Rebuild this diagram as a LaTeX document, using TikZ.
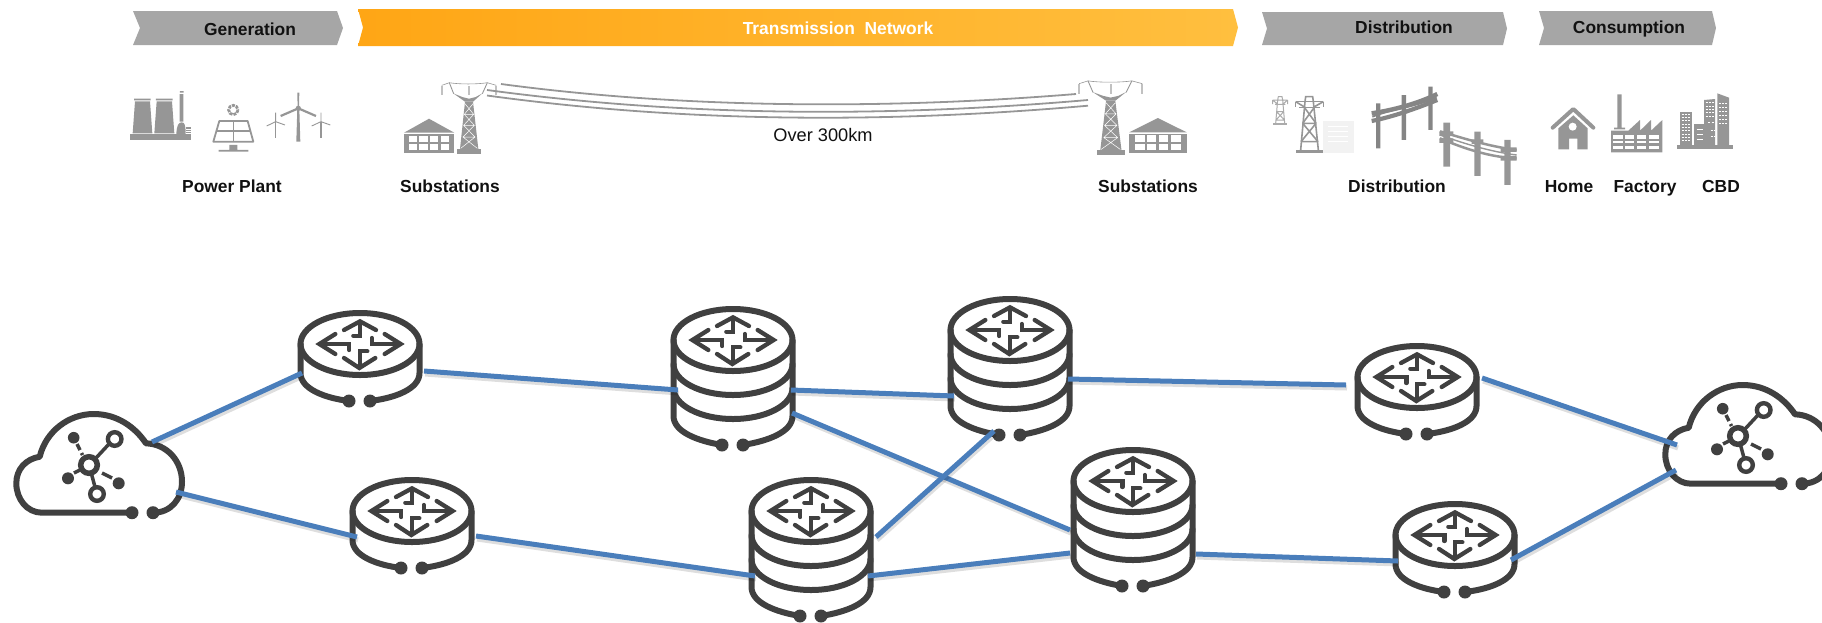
\documentclass[tikz,border=0pt]{standalone}
\usepackage{fontspec}
\setmainfont{Liberation Sans}
\usetikzlibrary{calc}
\definecolor{ink}{HTML}{404040}
\definecolor{icong}{HTML}{969696}
\definecolor{bandg}{HTML}{A6A6A6}
\definecolor{linkb}{HTML}{4A7EBB}
\definecolor{orgl}{HTML}{FFA615}
\definecolor{orgr}{HTML}{FFBF3F}
\definecolor{txt}{HTML}{111111}
\tikzset{
  hub/.style={inner sep=0pt,minimum size=1pt,outer sep=0pt},
  band/.style={fill=bandg},
  head/.style={anchor=base,text=txt,font=\bfseries\fontsize{17.4}{20}\selectfont,inner sep=0pt},
  link/.style={draw=linkb,line width=5pt},
  glow/.style={draw=black,opacity=.13,line width=5pt},
  ico/.style={draw=ink,line width=6pt,line cap=round,line join=round},
  arr/.style={draw=ink,line width=4.3pt,line cap=round,line join=miter,miter limit=8},
  thinp/.style={draw=icong,line width=1.6pt},
  pics/glyph/.style={code={
    \begin{scope}[scale=.3333]
      \draw[arr] (-74,-30) -- (-122,0) -- (-74,30);
      \draw[arr] (-115,0) -- (-32,0) -- (-32,18);
      \draw[arr] (74,-30) -- (122,0) -- (74,30);
      \draw[arr] (115,0) -- (35,0) -- (35,-18);
      \draw[arr] (-48,-42) -- (0,-68) -- (48,-42);
      \draw[arr] (0,-60) -- (0,-25) -- (-20,-25);
      \draw[arr] (-48,42) -- (-2,72) -- (46,42);
      \draw[arr] (0,65) -- (0,22) -- (22,22);
    \end{scope}
  }},
  pics/routerpic/.style={code={
    \draw[ico] (0,0) ellipse [x radius=59.5,y radius=31];
    \draw[ico] (-59.5,0) -- (-59.5,29) .. controls (-59.5,45) and (-35,54) .. (-11,57);
    \draw[ico] (59.5,0) -- (59.5,29) .. controls (59.5,45) and (35,54) .. (10,57);
    \fill[ink] (-11,57) circle [radius=6.5] (10,57) circle [radius=6.5];
    \pic {glyph};
  }},
  pics/drumpic/.style={code={
    \draw[ico] (0,0) ellipse [x radius=59.5,y radius=31];
    \foreach \d in {24,48}{
      \draw[ico] (-59.5,\d) .. controls (-59.5,\d+17) and (-33,\d+31) .. (0,\d+31)
        .. controls (33,\d+31) and (59.5,\d+17) .. (59.5,\d);
    }
    \draw[ico] (-59.5,0) -- (-59.5,76) .. controls (-59.5,92) and (-35,101) .. (-11,105);
    \draw[ico] (59.5,0) -- (59.5,76) .. controls (59.5,92) and (35,101) .. (10,105);
    \fill[ink] (-11,105) circle [radius=6.5] (10,105) circle [radius=6.5];
    \pic {glyph};
  }},
  pics/cloudpic/.style={code={
    \draw[ico] (43,47.7) -- (-47,47.7)
      .. controls (-62,47.7) and (-72.7,34) .. (-72.7,18.3)
      .. controls (-72.7,4) and (-63,-6) .. (-49.3,-8.3)
      .. controls (-43,-34) and (-20,-51) .. (4.7,-51)
      .. controls (28,-51) and (46,-38) .. (57,-21.7)
      .. controls (78,-21) and (93,-4) .. (93,16.7)
      .. controls (93,34) and (82,47.7) .. (64,47.7);
    \fill[ink] (43,47.7) circle [radius=6.5] (64,47.7) circle [radius=6.5];
    \draw[ink,line width=5.5pt] (0,0) circle [radius=8.3];
    \draw[ink,line width=4.4pt] (25.7,-26) circle [radius=6.8] (8,29) circle [radius=6.8];
    \draw[ink,line width=3.5pt] (7,-7) -- (20,-21) (2.5,9) -- (6,22);
    \draw[ink,line width=3.5pt] (-6.5,-10) -- (-7.5,-12) (-9,-15) -- (-12,-21);
    \draw[ink,line width=3.5pt] (-9,5) -- (-15,8) (13,8) -- (23,13);
    \fill[ink] (-15.3,-27.3) circle [radius=5.8] (-21,13.3) circle [radius=6] (29.7,18.3) circle [radius=6];
  }},
  pics/pylon/.style={code={
    \fill[icong] (-36,-14) rectangle (36,0);
    \fill[icong] (-12,-156) -- (12,-156) -- (28,-14) -- (-27,-14) -- cycle;
    \draw[white,line width=.5pt] (-12,-150) -- (14,-118) -- (-16,-85) -- (18,-50) -- (-25,-16)
      (12,-150) -- (-14,-118) -- (16,-85) -- (-18,-50) -- (25,-16)
      (-14,-118) -- (14,-118) (-16,-85) -- (16,-85) (-18,-50) -- (18,-50);
    \fill[icong] (-47,-181) -- (-12,-156) -- (12,-156) -- (40,-181) -- (20,-170) -- (0,-165) -- (-20,-170) -- cycle;
    \draw[icong,line width=.6pt] (-82,-205) -- (-59,-213) .. controls (-30,-208) and (25,-208) .. (55,-213) -- (82,-205);
    \draw[icong,line width=.9pt] (-59,-213) -- (-46,-180) (55,-213) -- (40,-180);
    \draw[bandg!70,line width=2pt] (-82,-203) -- (-82,-176) (0,-203) -- (0,-176) (82,-203) -- (82,-176);
  }},
  pics/depot/.style={code={
    \fill[icong] (0,-60) -- (75,-102) -- (151,-60) -- cycle;
    \fill[icong] (0,-56) rectangle (151,0);
    \foreach \xa in {15,46,78,110}{
      \fill[white] (\xa,-51) rectangle ++(25,20);
      \fill[white] (\xa,-26) rectangle ++(25,18);
    }
  }}
}
\begin{document}
\begin{tikzpicture}[x=1pt,y=-1pt]
\useasboundingbox (0,0) rectangle (1822,622);
\clip (0,0) rectangle (1822,622);

% ---------- header bands
\fill[band] (133,11) -- (337,11) -- (343,28) -- (337,45) -- (133,45) -- (140,28) -- cycle;
\shade[left color=orgl,right color=orgr] (358,9) -- (1233,9) -- (1238,27.5) -- (1233,46) -- (358,46) -- (363,27.5) -- cycle;
\fill[band] (1262,12) -- (1503,12) -- (1507,28.5) -- (1503,45) -- (1262,45) -- (1267,28.5) -- cycle;
\fill[band] (1539,11) -- (1712,11) -- (1716,28) -- (1712,45) -- (1539,45) -- (1544,28) -- cycle;
\node[head] (hgen) at (250,35) {Generation};
\node[head,text=white] (htrans) at (838,34) {Transmission\ \ Network};
\node[head] (hdist) at (1404,33) {Distribution};
\node[head] (hcons) at (1629,33) {Consumption};

% ---------- captions
\node[head] (lpp) at (232,192) {Power Plant};
\node[head] (lsa) at (450,192) {Substations};
\node[head] (lsb) at (1148,192) {Substations};
\node[head] (ldi) at (1397,192) {Distribution};
\node[head] (lho) at (1569,192) {Home};
\node[head] (lfa) at (1645,192) {Factory};
\node[head] (lcb) at (1721,192) {CBD};
\node[anchor=base,inner sep=0pt,text=txt,font=\fontsize{18.2}{22}\selectfont] (lover) at (823,141.7) {Over 300km};

% ---------- power plant icons
\begin{scope}[shift={(120,80)},scale=.3333]
  \fill[icong] (42,56) rectangle (92,61) (108,56) rectangle (158,61);
  \fill[icong] (45,64) -- (90,64) -- (97,160) -- (38,160) -- cycle;
  \fill[icong] (110,64) -- (156,64) -- (163,160) -- (103,160) -- cycle;
  \fill[icong] (30,163) rectangle (212,180);
  \fill[icong] (179,42) rectangle (190,125) (180,33) rectangle (191,38);
  \fill[icong] (169,163) .. controls (170,135) and (176,127) .. (185,127) .. controls (194,127) and (197,135) .. (197,163) -- cycle;
  \fill[icong] (197,142) rectangle (212,163);
  \draw[white,line width=.6pt] (197,148) -- (212,148) (197,154) -- (212,154) (197,160) -- (212,160);
  % solar
  \draw[icong,line width=1.8pt,line join=round] (298,123) -- (383,123) -- (400,185) -- (280,185) -- cycle;
  \draw[icong,line width=1.6pt] (290,153) -- (392,153) (340,123) -- (340,185);
  \fill[icong] (328,195) rectangle (352,210) (296,210) rectangle (385,215);
  \draw[icong,line width=2.8pt,dash pattern=on 3pt off 1pt] (340,90) circle [radius=14];
  % turbines
  \fill[icong] (532,85) -- (538,85) -- (541,185) -- (529,185) -- cycle;
  \fill[icong] (533,85) -- (532,38) -- (538,38) -- (537,85) -- cycle;
  \draw[icong,line width=2.2pt] (535,85) -- (482,108) (535,85) -- (588,108);
  \fill[icong] (535,85) circle [radius=8];
  \draw[icong,line width=1.6pt] (467,125) -- (467,175) (603,125) -- (603,175);
  \draw[icong,line width=.9pt] (467,98) -- (467,125) -- (440,138) (467,125) -- (495,135)
     (603,98) -- (603,125) -- (575,138) (603,125) -- (631,135);
\end{scope}

% ---------- transmission
\pic[scale=.3333] at (404,152.7) {depot};
\pic[scale=.3333] at (469,153.7) {pylon};
\pic[xscale=.38,yscale=.34] at (1129.3,152.7) {depot};
\pic[xscale=.385,yscale=.348] at (1110.7,155) {pylon};
\coordinate (wa) at (501,84);
\coordinate (wb) at (487,90);
\coordinate (wc) at (487,95.5);
\coordinate (wd) at (1076,94);
\coordinate (we) at (1088,100);
\coordinate (wf) at (1088,105.7);
\draw[draw=icong,line width=1.8pt] (wa) .. controls (680,108) and (880,110) .. (wd);
\draw[draw=icong,line width=1.8pt] (wb) .. controls (680,116) and (880,118) .. (we);
\draw[draw=icong,line width=1.8pt] (wc) .. controls (680,122) and (880,124) .. (wf);

% ---------- distribution icons
\begin{scope}[shift={(1260,70)},scale=.3333]
  \fill[black!5] (190,153) rectangle (282,248);
  \draw[white,line width=1.6pt] (205,170) -- (265,170) (205,185) -- (265,185) (205,200) -- (265,200) (205,215) -- (265,215);
  % big lattice pylon
  \draw[thinp] (135,95) -- (122,240) (160,95) -- (175,240) (135,95) -- (137,80) -- (158,80) -- (160,95);
  \draw[thinp] (107,95) -- (190,95) (107,95) -- (107,110) (190,95) -- (190,110) (118,112) -- (180,112);
  \draw[thinp] (107,95) -- (135,112) (190,95) -- (160,112);
  \draw[thinp] (128,160) -- (168,160) (123,215) -- (174,215) (128,160) -- (174,215) (168,160) -- (123,215) (133,112) -- (168,160) (163,112) -- (128,160);
  \fill[icong] (108,240) rectangle (188,248);
  % small lattice pylon
  \draw[icong!80,line width=1pt] (53,90) -- (47,160) (68,90) -- (74,160) (53,90) -- (55,80) -- (66,80) -- (68,90)
    (38,90) -- (83,90) (38,90) -- (38,102) (83,90) -- (83,102) (45,103) -- (76,103) (38,90) -- (53,103) (83,90) -- (68,103)
    (50,125) -- (71,125) (48,150) -- (73,150) (50,125) -- (73,150) (71,125) -- (48,150);
  \fill[icong!80] (40,160) rectangle (81,165);
  % first pole group
  \fill[black!48] (348,100) rectangle (361,235) (425,75) rectangle (438,210) (505,50) rectangle (518,180);
  \draw[black!48,line width=4.4pt] (335,130) .. controls (400,120) and (470,102) .. (532,72);
  \draw[black!48,line width=4.2pt] (335,153) .. controls (400,140) and (470,115) .. (532,90);
  \draw[black!48,line width=2pt] (337,140) .. controls (400,115) and (470,110) .. (530,82);
  % second pole group
  \fill[icong] (550,158) rectangle (570,290) (643,185) rectangle (662,318) (733,210) rectangle (752,345);
  \fill[icong] (538,184) rectangle (580,198) (538,205) rectangle (580,219);
  \fill[icong] (635,208) rectangle (670,222) (722,232) rectangle (770,246) (722,258) rectangle (770,272);
  \draw[icong,line width=2.5pt] (540,184) .. controls (610,205) and (690,230) .. (770,240);
  \draw[icong,line width=2.5pt] (540,205) .. controls (610,235) and (690,262) .. (770,265);
  \draw[icong,line width=1.4pt] (540,195) .. controls (610,220) and (690,245) .. (770,255);
\end{scope}

% ---------- consumption icons
\begin{scope}[shift={(1540,80)},scale=.3333]
  \draw[icong,line width=4pt,line cap=round,line join=round] (38,143) -- (100,87) -- (160,143);
  \fill[icong] (55,145) -- (100,106) -- (143,145) -- (143,208) -- (112,208) -- (112,176) -- (87,176) -- (87,208) -- (55,208) -- cycle;
  \fill[white] (98,140) circle [radius=12];
  \fill[icong] (232,43) rectangle (245,143) (222,143) rectangle (255,148);
  \fill[icong] (213,152) -- (265,152) -- (300,120) -- (300,152) -- (333,120) -- (333,152) -- (367,120) -- (367,217) -- (213,217) -- cycle;
  \foreach \xa in {220,254,290,328}{
    \fill[white] (\xa,166) rectangle ++(29,10);
    \fill[white] (\xa,182) rectangle ++(29,8);
    \fill[white] (\xa,199) rectangle ++(29,9);
  }
  \fill[icong] (412,195) rectangle (578,206);
  \fill[icong] (420,95) rectangle (456,195);
  \fill[icong] (462,133) rectangle (492,195);
  \fill[icong] (492,60) -- (525,57) -- (525,195) -- (492,195) -- cycle;
  \fill[icong] (532,40) -- (567,53) -- (567,195) -- (532,195) -- cycle;
  \draw[white,line width=.9pt,dash pattern=on 2pt off 1.2pt]
    (425,102) -- (452,102) (425,112) -- (452,112) (425,122) -- (452,122) (425,132) -- (452,132)
    (425,142) -- (452,142) (425,152) -- (452,152) (425,162) -- (452,162) (425,172) -- (452,172) (425,182) -- (452,182)
    (497,68) -- (522,68) (497,78) -- (522,78) (497,88) -- (522,88) (497,98) -- (522,98) (497,108) -- (522,108) (505,128) -- (522,128) (512,150) -- (522,150) (512,170) -- (522,170)
    (537,70) -- (564,70) (537,82) -- (564,82) (537,94) -- (564,94) (537,106) -- (564,106) (537,118) -- (564,118) (537,130) -- (564,130);
  \draw[white,line width=.8pt] (470,147) -- (488,147) (470,162) -- (488,162) (470,178) -- (488,178);
\end{scope}

% ---------- network
\node[hub] (cl) at (89,465) {};
\node[hub] (r1) at (360,344) {};
\node[hub] (r2) at (412,511) {};
\node[hub] (d1) at (733,340) {};
\node[hub] (d2) at (1010,330) {};
\node[hub] (d3) at (811,511) {};
\node[hub] (d4) at (1133,481) {};
\node[hub] (r3) at (1417,377) {};
\node[hub] (r4) at (1455,535) {};
\node[hub] (cr) at (1738,436) {};
\pic at (cl) {cloudpic};
\pic at (cr) {cloudpic};
\pic at (r1) {routerpic};
\pic at (r2) {routerpic};
\pic at (r3) {routerpic};
\pic at (r4) {routerpic};
\pic at (d1) {drumpic};
\pic at (d2) {drumpic};
\pic at (d3) {drumpic};
\pic at (d4) {drumpic};

\foreach \a/\ax/\ay/\b/\bx/\by in {
  cl/63/-23/r1/-58/29,
  r1/64/27/d1/-55/50,
  cl/87/27/r2/-55/26,
  r2/64/25/d3/-56/65,
  d1/58/50/d2/-56/66,
  d1/59/73/d4/-63/49,
  d3/65/26/d2/-16/101,
  d3/57/65/d4/-63/72,
  d2/58/49/r3/-71/8,
  d4/63/73/r4/-57/26,
  r3/65/1/cr/-61/9,
  r4/56/25/cr/-62/34}{
  \draw[glow] ($(\a)+(\ax+1,\ay+3)$) -- ($(\b)+(\bx+1,\by+3)$);
  \draw[link] ($(\a)+(\ax,\ay)$) -- ($(\b)+(\bx,\by)$);
}
\end{tikzpicture}
\end{document}
